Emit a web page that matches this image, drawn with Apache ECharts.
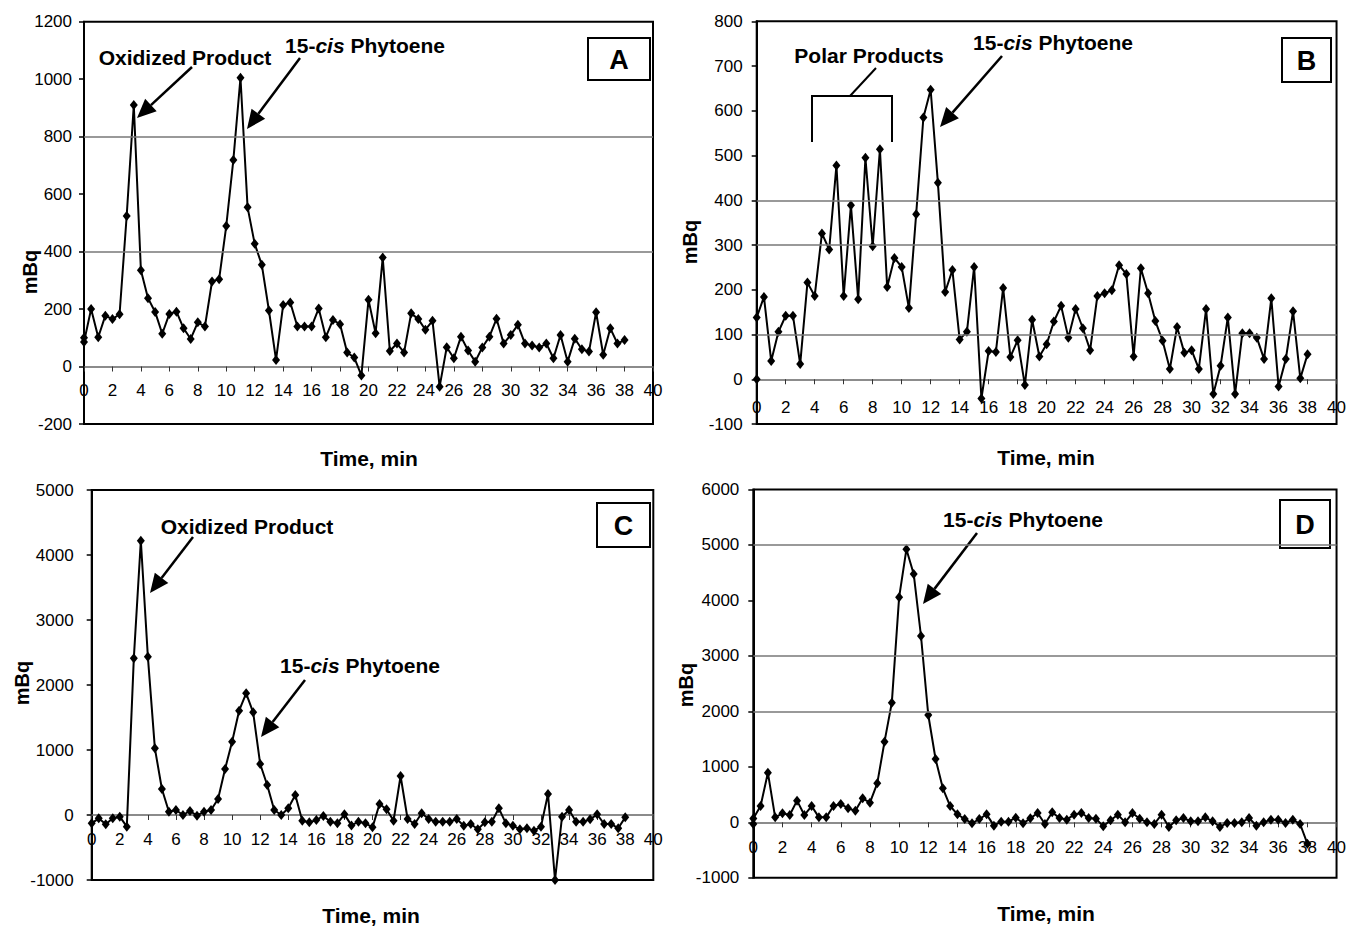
<!DOCTYPE html>
<html><head><meta charset="utf-8">
<script src="https://cdn.jsdelivr.net/npm/echarts@6/dist/echarts.min.js"></script>
<style>html,body{margin:0;padding:0;background:#fff}#c{width:1349px;height:926px}</style>
</head><body><div id="c"></div>
<script>
// ---- DATA ----
const timesA = [0,0,0.5,1,1.5,2,2.5,3,3.5,4,4.5,5,5.5,6,6.5,7,7.5,8,8.5,9,9.5,10,10.5,11,11.5,12,12.5,13,13.5,14,14.5,15,15.5,16,16.5,17,17.5,18,18.5,19,19.5,20,20.5,21,21.5,22,22.5,23,23.5,24,24.5,25,25.5,26,26.5,27,27.5,28,28.5,29,29.5,30,30.5,31,31.5,32,32.5,33,33.5,34,34.5,35,35.5,36,36.5,37,37.5,38];
const valuesA = [100,85,200,102,177,165,182,524,910,335,238,190,114,183,191,133,96,154,139,296,304,489,719,1005,554,427,354,195,23,214,223,139,139,139,202,102,162,147,49,31,-31,232,116,379,54,80,49,185,165,128,159,-70,67,29,104,56,17,66,104,166,80,110,145,80,73,66,80,29,110,17,97,60,52,189,41,133,80,92];

const timesB = [0,0,0.5,1,1.5,2,2.5,3,3.5,4,4.5,5,5.5,6,6.5,7,7.5,8,8.5,9,9.5,10,10.5,11,11.5,12,12.5,13,13.5,14,14.5,15,15.5,16,16.5,17,17.5,18,18.5,19,19.5,20,20.5,21,21.5,22,22.5,23,23.5,24,24.5,25,25.5,26,26.5,27,27.5,28,28.5,29,29.5,30,30.5,31,31.5,32,32.5,33,33.5,34,34.5,35,35.5,36,36.5,37,37.5,38];
const valuesB = [0,138,184,41,106,142,142,34,216,186,326,290,478,186,389,179,495,297,514,206,271,251,159,369,585,647,439,195,244,89,106,251,-43,63,61,204,50,87,-13,133,51,78,129,164,93,157,114,65,186,192,199,255,235,51,248,192,130,86,23,117,59,65,23,157,-33,30,138,-33,103,103,93,45,181,-16,45,152,2,56];

const timesC = [0,0.5,1,1.5,2,2.5,3,3.5,4,4.5,5,5.5,6,6.5,7,7.5,8,8.5,9,9.5,10,10.5,11,11.5,12,12.5,13,13.5,14,14.5,15,15.5,16,16.5,17,17.5,18,18.5,19,19.5,20,20.5,21,21.5,22,22.5,23,23.5,24,24.5,25,25.5,26,26.5,27,27.5,28,28.5,29,29.5,30,30.5,31,31.5,32,32.5,33,33.5,34,34.5,35,35.5,36,36.5,37,37.5,38];
const valuesC = [-128,-51,-144,-51,-26,-179,2410,4220,2436,1026,400,51,77,0,62,-10,51,77,246,708,1128,1605,1872,1580,785,462,77,0,103,308,-87,-113,-77,-15,-103,-128,10,-160,-103,-128,-190,169,87,-87,600,-62,-138,26,-62,-103,-103,-103,-62,-164,-138,-220,-113,-103,103,-128,-164,-220,-205,-241,-179,323,-1000,-26,77,-103,-103,-67,10,-138,-138,-205,-36];

const timesD = [0,0,0.5,1,1.5,2,2.5,3,3.5,4,4.5,5,5.5,6,6.5,7,7.5,8,8.5,9,9.5,10,10.5,11,11.5,12,12.5,13,13.5,14,14.5,15,15.5,16,16.5,17,17.5,18,18.5,19,19.5,20,20.5,21,21.5,22,22.5,23,23.5,24,24.5,25,25.5,26,26.5,27,27.5,28,28.5,29,29.5,30,30.5,31,31.5,32,32.5,33,33.5,34,34.5,35,35.5,36,36.5,37,37.5,38];
const valuesD = [-30,70,294,895,90,162,132,391,132,294,90,90,294,331,252,210,433,355,703,1454,2157,4056,4922,4477,3359,1935,1142,613,294,144,60,-18,60,144,-60,12,12,84,-18,72,168,-30,180,78,48,138,168,78,66,-72,36,138,0,168,66,0,-30,138,-84,36,78,18,18,90,18,-84,-12,-12,0,78,-60,0,48,48,-12,48,-30,-385];

// axis ranges [min, max, interval]
const xRange = [0, 40, 2];
const yRangeA = [-200, 1200, 200];
const yRangeB = [-100, 800, 100];
const yRangeC = [-1000, 5000, 1000];
const yRangeD = [-1000, 6000, 1000];
// horizontal reference lines visible in each panel
const refLinesA = [400, 800];
const refLinesB = [100, 300, 400];
const refLinesC = [];
const refLinesD = [2000, 3000, 5000];

const panelLetters = ['A', 'B', 'C', 'D'];
const xTitle = 'Time, min';
const yTitle = 'mBq';

// ---- LAYOUT ----
const FONT = "'Liberation Sans', Arial, sans-serif";
const panels = [
  {t: timesA, v: valuesA, y: yRangeA, ref: refLinesA, lm: 12, xm: 15, grid: {left: 84, top: 21.7, width: 569, height: 402.3}},
  {t: timesB, v: valuesB, y: yRangeB, ref: refLinesB, lm: 14, xm: 20, grid: {left: 756.7, top: 21.3, width: 582.4, height: 402.7}},
  {t: timesC, v: valuesC, y: yRangeC, ref: refLinesC, lm: 18, xm: 16, grid: {left: 91.7, top: 490, width: 561.6, height: 390}},
  {t: timesD, v: valuesD, y: yRangeD, ref: refLinesD, lm: 14, xm: 17, grid: {left: 753.3, top: 489.5, width: 584, height: 388.3}}
];

const grids = [], xAxes = [], yAxes = [], series = [];
panels.forEach((p, i) => {
  grids.push(Object.assign({show: true, borderColor: '#000', borderWidth: 2, backgroundColor: 'transparent'}, p.grid));
  // place the time axis on the zero line of the value scale
  const zeroOffset = -p.grid.height * (0 - p.y[0]) / (p.y[1] - p.y[0]);
  xAxes.push({
    type: 'value', gridIndex: i, min: xRange[0], max: xRange[1], interval: xRange[2],
    position: 'bottom', offset: zeroOffset,
    axisLine: {onZero: false, lineStyle: {color: '#666', width: 1.5}},
    axisTick: {show: true, length: 5, lineStyle: {color: '#333', width: 1}},
    axisLabel: {color: '#000', fontSize: 17, fontFamily: FONT, margin: p.xm},
    splitLine: {show: false}
  });
  yAxes.push({
    type: 'value', gridIndex: i, min: p.y[0], max: p.y[1], interval: p.y[2],
    axisLine: {show: true, onZero: false, lineStyle: {color: '#000', width: 2}},
    axisTick: {show: true, length: 5, lineStyle: {color: '#000', width: 1.5}},
    axisLabel: {color: '#000', fontSize: 17, fontFamily: FONT, margin: p.lm, formatter: v => String(v)},
    splitLine: {show: false}
  });
  series.push({
    type: 'line', xAxisIndex: i, yAxisIndex: i,
    data: p.t.map((x, j) => [x, p.v[j]]),
    symbol: 'diamond', symbolSize: [8, 10],
    itemStyle: {color: '#000'},
    lineStyle: {color: '#000', width: 2},
    animation: false,
    markLine: {
      silent: true, symbol: 'none', label: {show: false}, animation: false,
      lineStyle: {color: '#777', width: 1.5, type: 'solid'},
      data: p.ref.map(y => ({yAxis: y}))
    }
  });
});

// ---- ANNOTATIONS ----
function arrow(x1, y1, x2, y2) {
  const dx = x2 - x1, dy = y2 - y1, L = Math.hypot(dx, dy), ux = dx / L, uy = dy / L;
  const hl = 19, hw = 8.5;
  const bx = x2 - ux * hl, by = y2 - uy * hl;
  return [
    {type: 'line', shape: {x1: x1, y1: y1, x2: bx, y2: by}, style: {stroke: '#000', lineWidth: 2.5}},
    {type: 'polygon', shape: {points: [[x2, y2], [bx - uy * hw, by + ux * hw], [bx + uy * hw, by - ux * hw]]}, style: {fill: '#000'}}
  ];
}
function label(text, x, y) {
  return {type: 'text', x: x, y: y, style: {text: text, font: 'bold 21px ' + FONT, fill: '#000', textAlign: 'center', textVerticalAlign: 'middle'}};
}
function phytoene(x, y) {
  return {type: 'text', x: x, y: y, style: {
    text: '{a|15-}{b|cis}{a| Phytoene}', fill: '#000', textAlign: 'center', textVerticalAlign: 'middle',
    rich: {
      a: {fontWeight: 'bold', fontSize: 21, fontFamily: FONT, fill: '#000'},
      b: {fontWeight: 'bold', fontStyle: 'italic', fontSize: 21, fontFamily: FONT, fill: '#000'}
    }
  }};
}
function box(letter, x, y, w, h) {
  return [
    {type: 'rect', shape: {x: x, y: y, width: w, height: h}, style: {fill: '#fff', stroke: '#000', lineWidth: 2}},
    {type: 'text', x: x + w / 2, y: y + h / 2 + 1, style: {text: letter, font: 'bold 27px ' + FONT, fill: '#000', textAlign: 'center', textVerticalAlign: 'middle'}}
  ];
}
function xName(x, y) {
  return {type: 'text', x: x, y: y, style: {text: xTitle, font: 'bold 21px ' + FONT, fill: '#000', textAlign: 'center', textVerticalAlign: 'middle'}};
}
function yName(x, y) {
  return {type: 'text', x: x, y: y, rotation: Math.PI / 2, style: {text: yTitle, font: 'bold 20px ' + FONT, fill: '#000', textAlign: 'center', textVerticalAlign: 'middle'}};
}

const graphics = [].concat(
  // Panel A
  label('Oxidized Product', 185, 57), phytoene(365, 45),
  arrow(192, 67, 137, 118), arrow(300, 58, 247, 129),
  box(panelLetters[0], 588, 38, 62, 42),
  xName(369, 458), yName(30, 272),
  // Panel B
  label('Polar Products', 869, 55), phytoene(1053, 42),
  [{type: 'polyline', shape: {points: [[812, 142], [812, 96], [892, 96], [892, 142]]}, style: {stroke: '#000', lineWidth: 2, fill: null}},
   {type: 'line', shape: {x1: 850, y1: 96, x2: 876, y2: 68}, style: {stroke: '#000', lineWidth: 2}}],
  arrow(1002, 56, 940, 127),
  box(panelLetters[1], 1282, 38, 49, 44),
  xName(1046, 457), yName(690, 242),
  // Panel C
  label('Oxidized Product', 247, 526), phytoene(360, 665),
  arrow(193, 537, 150, 593), arrow(305, 680, 261, 737),
  box(panelLetters[2], 597, 503, 53, 44),
  xName(371, 915), yName(22, 683),
  // Panel D
  phytoene(1023, 519),
  arrow(977, 533, 923, 604),
  box(panelLetters[3], 1280, 500, 50, 48),
  xName(1046, 913), yName(686, 685)
);

const chart = echarts.init(document.getElementById('c'), null, {renderer: 'svg'});
chart.setOption({
  animation: false,
  backgroundColor: '#fff',
  grid: grids, xAxis: xAxes, yAxis: yAxes, series: series,
  graphic: {elements: graphics}
});
</script></body></html>
